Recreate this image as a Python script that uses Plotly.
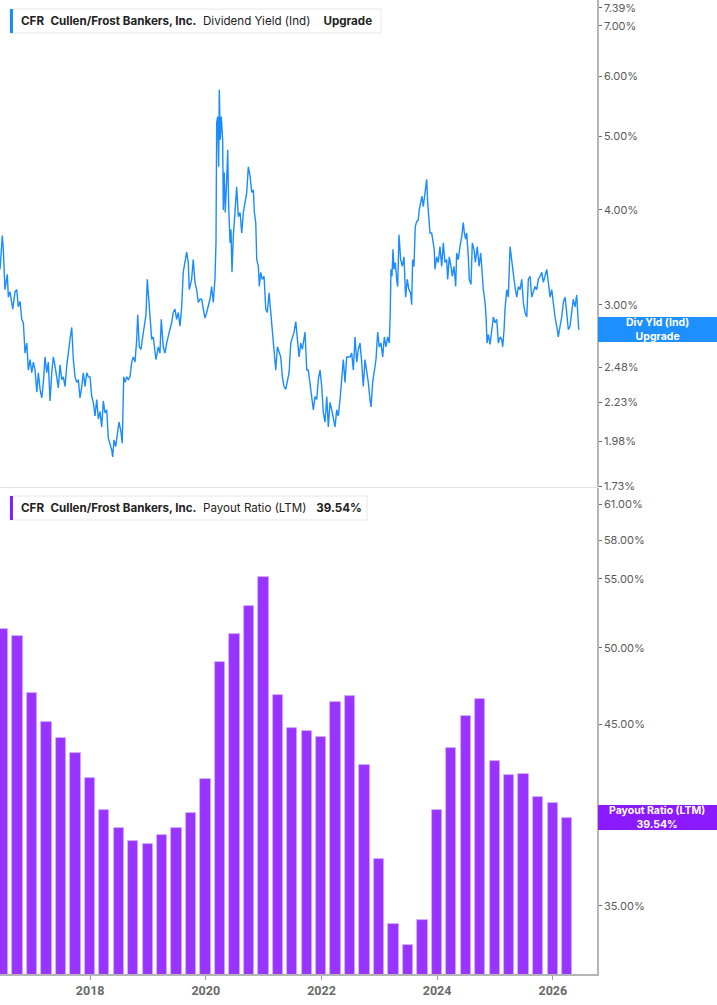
import plotly.graph_objects as go
import pandas as pd
import math

# ---------------- data ----------------
# Dividend yield (Ind), % -- time as decimal year
yield_t = [
    2016.442, 2016.459, 2016.482, 2016.499, 2016.528, 2016.568, 2016.586, 2016.615, 2016.662, 2016.701,
    2016.731, 2016.758, 2016.788, 2016.817, 2016.845, 2016.874, 2016.904, 2016.931, 2016.961, 2016.990,
    2017.018, 2017.047, 2017.077, 2017.104, 2017.134, 2017.163, 2017.191, 2017.220, 2017.249, 2017.277,
    2017.306, 2017.336, 2017.364, 2017.393, 2017.422, 2017.450, 2017.479, 2017.509, 2017.536, 2017.566,
    2017.595, 2017.623, 2017.652, 2017.682, 2017.709, 2017.739, 2017.768, 2017.796, 2017.825, 2017.855,
    2017.882, 2017.912, 2017.941, 2017.969, 2017.998, 2018.028, 2018.055, 2018.085, 2018.114, 2018.142,
    2018.171, 2018.200, 2018.228, 2018.257, 2018.287, 2018.314, 2018.344, 2018.373, 2018.390, 2018.413,
    2018.442, 2018.470, 2018.499, 2018.529, 2018.556, 2018.581, 2018.603, 2018.633, 2018.660, 2018.690,
    2018.719, 2018.747, 2018.776, 2018.806, 2018.823, 2018.851, 2018.880, 2018.909, 2018.937, 2018.966,
    2018.989, 2019.018, 2019.036, 2019.065, 2019.093, 2019.139, 2019.179, 2019.208, 2019.231, 2019.265,
    2019.295, 2019.324, 2019.369, 2019.410, 2019.438, 2019.468, 2019.497, 2019.525, 2019.554, 2019.584,
    2019.611, 2019.641, 2019.670, 2019.698, 2019.715, 2019.756, 2019.784, 2019.814, 2019.843, 2019.871,
    2019.900, 2019.929, 2019.957, 2019.986, 2020.016, 2020.044, 2020.073, 2020.102, 2020.130, 2020.159,
    2020.177, 2020.189, 2020.206, 2020.223, 2020.234, 2020.251, 2020.268, 2020.292, 2020.303, 2020.320,
    2020.337, 2020.362, 2020.379, 2020.396, 2020.419, 2020.436, 2020.453, 2020.476, 2020.505, 2020.534,
    2020.562, 2020.592, 2020.621, 2020.649, 2020.678, 2020.707, 2020.735, 2020.765, 2020.794, 2020.822,
    2020.839, 2020.863, 2020.880, 2020.908, 2020.925, 2020.949, 2020.977, 2021.006, 2021.036, 2021.063,
    2021.093, 2021.122, 2021.150, 2021.179, 2021.209, 2021.237, 2021.266, 2021.295, 2021.323, 2021.352,
    2021.382, 2021.409, 2021.439, 2021.468, 2021.525, 2021.555, 2021.582, 2021.612, 2021.641, 2021.669,
    2021.715, 2021.745, 2021.772, 2021.802, 2021.831, 2021.859, 2021.888, 2021.918, 2021.945, 2021.975,
    2022.004, 2022.032, 2022.061, 2022.091, 2022.118, 2022.148, 2022.177, 2022.205, 2022.234, 2022.264,
    2022.291, 2022.321, 2022.350, 2022.378, 2022.407, 2022.436, 2022.464, 2022.494, 2022.523, 2022.551,
    2022.580, 2022.609, 2022.637, 2022.666, 2022.696, 2022.723, 2022.753, 2022.782, 2022.810, 2022.839,
    2022.857, 2022.886, 2022.914, 2022.943, 2022.972, 2023.000, 2023.029, 2023.059, 2023.087, 2023.116,
    2023.145, 2023.173, 2023.190, 2023.202, 2023.220, 2023.237, 2023.254, 2023.277, 2023.301, 2023.318,
    2023.341, 2023.370, 2023.398, 2023.427, 2023.456, 2023.484, 2023.513, 2023.543, 2023.560, 2023.577,
    2023.600, 2023.622, 2023.646, 2023.674, 2023.691, 2023.716, 2023.738, 2023.761, 2023.778, 2023.796,
    2023.820, 2023.837, 2023.859, 2023.877, 2023.906, 2023.934, 2023.951, 2023.963, 2023.993, 2024.020,
    2024.050, 2024.079, 2024.107, 2024.136, 2024.165, 2024.183, 2024.210, 2024.240, 2024.262, 2024.292,
    2024.321, 2024.338, 2024.366, 2024.395, 2024.425, 2024.452, 2024.470, 2024.494, 2024.511, 2024.539,
    2024.556, 2024.585, 2024.608, 2024.637, 2024.660, 2024.694, 2024.724, 2024.753, 2024.770, 2024.798,
    2024.828, 2024.845, 2024.862, 2024.885, 2024.914, 2024.943, 2024.971, 2025.000, 2025.030, 2025.057,
    2025.087, 2025.116, 2025.133, 2025.156, 2025.173, 2025.203, 2025.230, 2025.260, 2025.289, 2025.306,
    2025.329, 2025.352, 2025.376, 2025.404, 2025.433, 2025.462, 2025.490, 2025.519, 2025.549, 2025.576,
    2025.606, 2025.635, 2025.663, 2025.692, 2025.721, 2025.749, 2025.779, 2025.808, 2025.836, 2025.865,
    2025.894, 2025.922, 2025.952, 2025.981, 2026.009, 2026.038, 2026.068, 2026.095, 2026.124, 2026.154,
    2026.181, 2026.211, 2026.240, 2026.268, 2026.297, 2026.326, 2026.354, 2026.384, 2026.413, 2026.430,
    2026.448,
]
yield_v = [
    3.34, 3.48, 3.70, 3.55, 3.14, 3.29, 3.07, 3.12, 2.96, 3.12,
    3.14, 2.98, 3.03, 2.87, 2.84, 2.59, 2.67, 2.46, 2.54, 2.44,
    2.52, 2.46, 2.30, 2.44, 2.32, 2.26, 2.37, 2.56, 2.44, 2.52,
    2.24, 2.44, 2.56, 2.49, 2.41, 2.33, 2.50, 2.39, 2.41, 2.34,
    2.49, 2.62, 2.70, 2.80, 2.54, 2.41, 2.37, 2.39, 2.26, 2.34,
    2.44, 2.34, 2.44, 2.41, 2.41, 2.27, 2.23, 2.14, 2.25, 2.12,
    2.17, 2.07, 2.24, 2.16, 2.18, 2.00, 1.97, 1.93, 1.89, 1.99,
    1.95, 2.01, 2.10, 2.05, 1.97, 2.41, 2.37, 2.41, 2.39, 2.41,
    2.52, 2.56, 2.52, 2.70, 2.91, 2.64, 2.62, 2.72, 2.81, 2.91,
    3.24, 3.02, 2.87, 2.70, 2.72, 2.54, 2.64, 2.59, 2.87, 2.64,
    2.59, 2.67, 2.76, 2.84, 2.93, 2.96, 2.87, 2.93, 2.81, 2.98,
    3.31, 3.44, 3.52, 3.41, 3.14, 3.24, 3.44, 3.21, 3.14, 3.02,
    3.05, 3.05, 2.98, 2.88, 2.93, 2.98, 3.05, 3.17, 3.02, 3.24,
    3.62, 5.21, 5.31, 4.56, 5.76, 4.95, 5.31, 4.95, 4.00, 4.48,
    3.97, 4.39, 4.80, 4.04, 3.62, 3.77, 3.31, 3.69, 4.04, 4.29,
    3.92, 3.97, 3.73, 3.97, 4.09, 4.22, 4.56, 4.43, 4.22, 4.25,
    3.97, 3.85, 3.44, 3.37, 3.17, 3.31, 3.24, 3.27, 2.96, 2.93,
    3.11, 2.93, 2.76, 2.64, 2.46, 2.64, 2.59, 2.56, 2.41, 2.34,
    2.32, 2.39, 2.44, 2.67, 2.76, 2.85, 2.72, 2.56, 2.67, 2.62,
    2.76, 2.46, 2.46, 2.37, 2.27, 2.18, 2.27, 2.25, 2.39, 2.46,
    2.34, 2.16, 2.10, 2.27, 2.07, 2.23, 2.18, 2.12, 2.07, 2.18,
    2.14, 2.25, 2.37, 2.54, 2.37, 2.56, 2.56, 2.56, 2.59, 2.46,
    2.72, 2.52, 2.62, 2.67, 2.52, 2.34, 2.54, 2.46, 2.37, 2.25,
    2.20, 2.37, 2.46, 2.54, 2.76, 2.64, 2.67, 2.56, 2.72, 2.64,
    2.72, 2.67, 2.93, 3.34, 3.27, 3.55, 3.34, 3.41, 3.24, 3.17,
    3.71, 3.44, 3.37, 3.47, 3.07, 3.24, 3.14, 3.11, 3.00, 3.44,
    3.37, 3.80, 3.86, 3.88, 4.00, 4.09, 4.17, 4.04, 4.13, 4.25,
    4.39, 4.09, 3.92, 3.73, 3.73, 3.58, 3.55, 3.34, 3.47, 3.41,
    3.58, 3.37, 3.62, 3.41, 3.44, 3.24, 3.47, 3.37, 3.27, 3.37,
    3.17, 3.51, 3.44, 3.58, 3.69, 3.85, 3.73, 3.66, 3.73, 3.47,
    3.24, 3.19, 3.62, 3.55, 3.41, 3.58, 3.37, 3.51, 3.31, 3.14,
    3.02, 2.89, 2.67, 2.74, 2.66, 2.76, 2.89, 2.84, 2.87, 2.67,
    2.72, 2.70, 2.64, 2.78, 2.96, 3.14, 3.07, 3.58, 3.41, 3.31,
    3.24, 3.14, 3.07, 3.17, 3.14, 3.24, 3.02, 2.93, 2.89, 3.24,
    3.27, 3.07, 3.11, 3.17, 3.14, 3.24, 3.27, 3.31, 3.21, 3.27,
    3.34, 3.21, 3.07, 3.14, 2.98, 2.89, 2.81, 2.72, 2.81, 2.89,
    3.02, 3.07, 2.93, 2.78, 2.81, 2.96, 3.05, 2.98, 3.09, 2.93,
    2.78,
]

# Payout ratio (LTM), %, quarterly
payout_q = [
    "2016-06-30", "2016-09-30", "2016-12-31", "2017-03-31", "2017-06-30", "2017-09-30", "2017-12-31",
    "2018-03-31", "2018-06-30", "2018-09-30", "2018-12-31", "2019-03-31", "2019-06-30", "2019-09-30",
    "2019-12-31", "2020-03-31", "2020-06-30", "2020-09-30", "2020-12-31", "2021-03-31", "2021-06-30",
    "2021-09-30", "2021-12-31", "2022-03-31", "2022-06-30", "2022-09-30", "2022-12-31", "2023-03-31",
    "2023-06-30", "2023-09-30", "2023-12-31", "2024-03-31", "2024-06-30", "2024-09-30", "2024-12-31",
    "2025-03-31", "2025-06-30", "2025-09-30", "2025-12-31", "2026-03-31",
]
payout_v = [
    51.31, 50.83, 46.96, 45.12, 44.17, 43.22, 41.77, 39.94, 38.98, 38.29,
    38.11, 38.59, 38.95, 39.80, 41.69, 49.04, 51.00, 52.97, 55.11, 46.83,
    44.76, 44.56, 44.19, 46.38, 46.79, 42.55, 37.35, 34.14, 33.16, 34.31,
    39.94, 43.52, 45.51, 46.61, 42.75, 41.94, 42.00, 40.69, 40.37, 39.54,
]

yield_ticks = [7.39, 7.00, 6.00, 5.00, 4.00, 3.00, 2.48, 2.23, 1.98, 1.73]
payout_ticks = [61.0, 58.0, 55.0, 50.0, 45.0, 40.0, 35.0]
year_ticks = ["2018", "2020", "2022", "2024", "2026"]


def dec_to_date(t):
    y = int(t)
    s = pd.Timestamp(year=y, month=1, day=1)
    e = pd.Timestamp(year=y + 1, month=1, day=1)
    return s + (e - s) * (t - y)


yield_dates = [dec_to_date(t) for t in yield_t]
x_range = [dec_to_date(2016.442), dec_to_date(2026.764)]

W, H = 717, 1005
PL, PR, PT, PB = 0, 120, 0, 31
pw, ph = W - PL - PR, H - PT - PB


def px(x):
    return (x - PL) / pw


def py(y):
    return 1 - (y - PT) / ph


BLUE = "#1a8cff"
PURPLE = "#9933ff"
PURPLE_DARK = "#8c1aff"
FONT = "Inter, Roboto, sans-serif"

fig = go.Figure()
fig.add_trace(go.Scatter(
    x=yield_dates, y=yield_v, mode="lines",
    line=dict(color=BLUE, width=1.4), xaxis="x", yaxis="y",
    hoverinfo="skip", showlegend=False,
))
fig.add_trace(go.Bar(
    x=pd.to_datetime(payout_q), y=payout_v,
    marker=dict(color=PURPLE, line=dict(color="#d2b0ff", width=0.8)),
    width=65 * 86400000, xaxis="x2", yaxis="y2",
    hoverinfo="skip", showlegend=False,
))

yaxis_common = dict(
    type="log", side="right", showgrid=False, zeroline=False,
    showline=True, linecolor="#b5b5b5", linewidth=1.5,
    ticks="outside", ticklen=3, tickwidth=1, tickcolor="#666",
    tickfont=dict(family=FONT, size=11, color="#5a5a5a"),
    automargin=False, fixedrange=True,
)

fig.update_layout(
    width=W, height=H,
    margin=dict(l=PL, r=PR, t=PT, b=PB),
    paper_bgcolor="white", plot_bgcolor="white",
    showlegend=False, bargap=0,
    xaxis=dict(
        domain=[0, 1], anchor="y", type="date", range=x_range,
        showticklabels=False, ticks="", showgrid=False, zeroline=False,
        showline=True, linecolor="#e4e4e4", linewidth=1,
    ),
    xaxis2=dict(
        domain=[0, 1], anchor="y2", type="date", range=x_range,
        tickvals=[pd.Timestamp(f"{y}-01-01") for y in year_ticks],
        ticktext=[f"<b>{y}</b>" for y in year_ticks],
        ticks="outside", ticklen=4, tickcolor="#999", tickwidth=1,
        tickfont=dict(family="Roboto, sans-serif", size=12.5, color="#6a6a6a"),
        showgrid=False, zeroline=False,
        showline=True, linecolor="#b5b5b5", linewidth=1.5,
    ),
    yaxis=dict(
        domain=[py(487), 1], anchor="x",
        range=[math.log10(1.7248), math.log10(7.567)],
        tickvals=yield_ticks, ticktext=[f"{v:.2f}%" for v in yield_ticks],
        **yaxis_common,
    ),
    yaxis2=dict(
        domain=[0, py(488)], anchor="x2",
        range=[math.log10(31.85), math.log10(62.37)],
        tickvals=payout_ticks, ticktext=[f"{v:.2f}%" for v in payout_ticks],
        **yaxis_common,
    ),
)

shapes = []
annotations = []


def legend_box(x0, x1, y0, y1, accent, text):
    shapes.append(dict(type="rect", xref="paper", yref="paper",
                       x0=px(x0), x1=px(x1), y0=py(y1), y1=py(y0),
                       line=dict(color="#e6e6e6", width=1), fillcolor="white", layer="above"))
    shapes.append(dict(type="rect", xref="paper", yref="paper",
                       x0=px(x0), x1=px(x0 + 3), y0=py(y1), y1=py(y0),
                       line=dict(width=0), fillcolor=accent, layer="above"))
    annotations.append(dict(xref="paper", yref="paper", x=px(x0 + 9), y=py((y0 + y1) / 2),
                            xanchor="left", yanchor="middle", showarrow=False, text=text,
                            font=dict(family=FONT, size=11.6, color="#222")))


s2 = "\u00a0\u00a0"
s4 = "\u00a0\u00a0\u00a0\u00a0"
legend_box(10, 381, 9, 33, BLUE,
           f"<b>CFR</b>{s2}<b>Cullen/Frost Bankers, Inc.</b>{s2}Dividend Yield (Ind){s4}<b>Upgrade</b>")
legend_box(10, 367, 496, 520, PURPLE_DARK,
           f"<b>CFR</b>{s2}<b>Cullen/Frost Bankers, Inc.</b>{s2}Payout Ratio (LTM){s2}\u00a0<b>39.54%</b>")


def side_label(y0, y1, color, text):
    shapes.append(dict(type="rect", xref="paper", yref="paper",
                       x0=px(598), x1=px(717), y0=py(y1), y1=py(y0),
                       line=dict(width=0), fillcolor=color, layer="above"))
    annotations.append(dict(xref="paper", yref="paper", x=px(657.5), y=py((y0 + y1) / 2),
                            xanchor="center", yanchor="middle", showarrow=False, text=text,
                            font=dict(family=FONT, size=10.5, color="white")))


side_label(317, 342, "#1e8fff", "<b>Div Yld (Ind)</b><br><b>Upgrade</b>")
side_label(805, 830, PURPLE_DARK, "<b>Payout Ratio (LTM)</b><br><b>39.54%</b>")

fig.update_layout(shapes=shapes, annotations=annotations)
fig.write_html("out.html")
